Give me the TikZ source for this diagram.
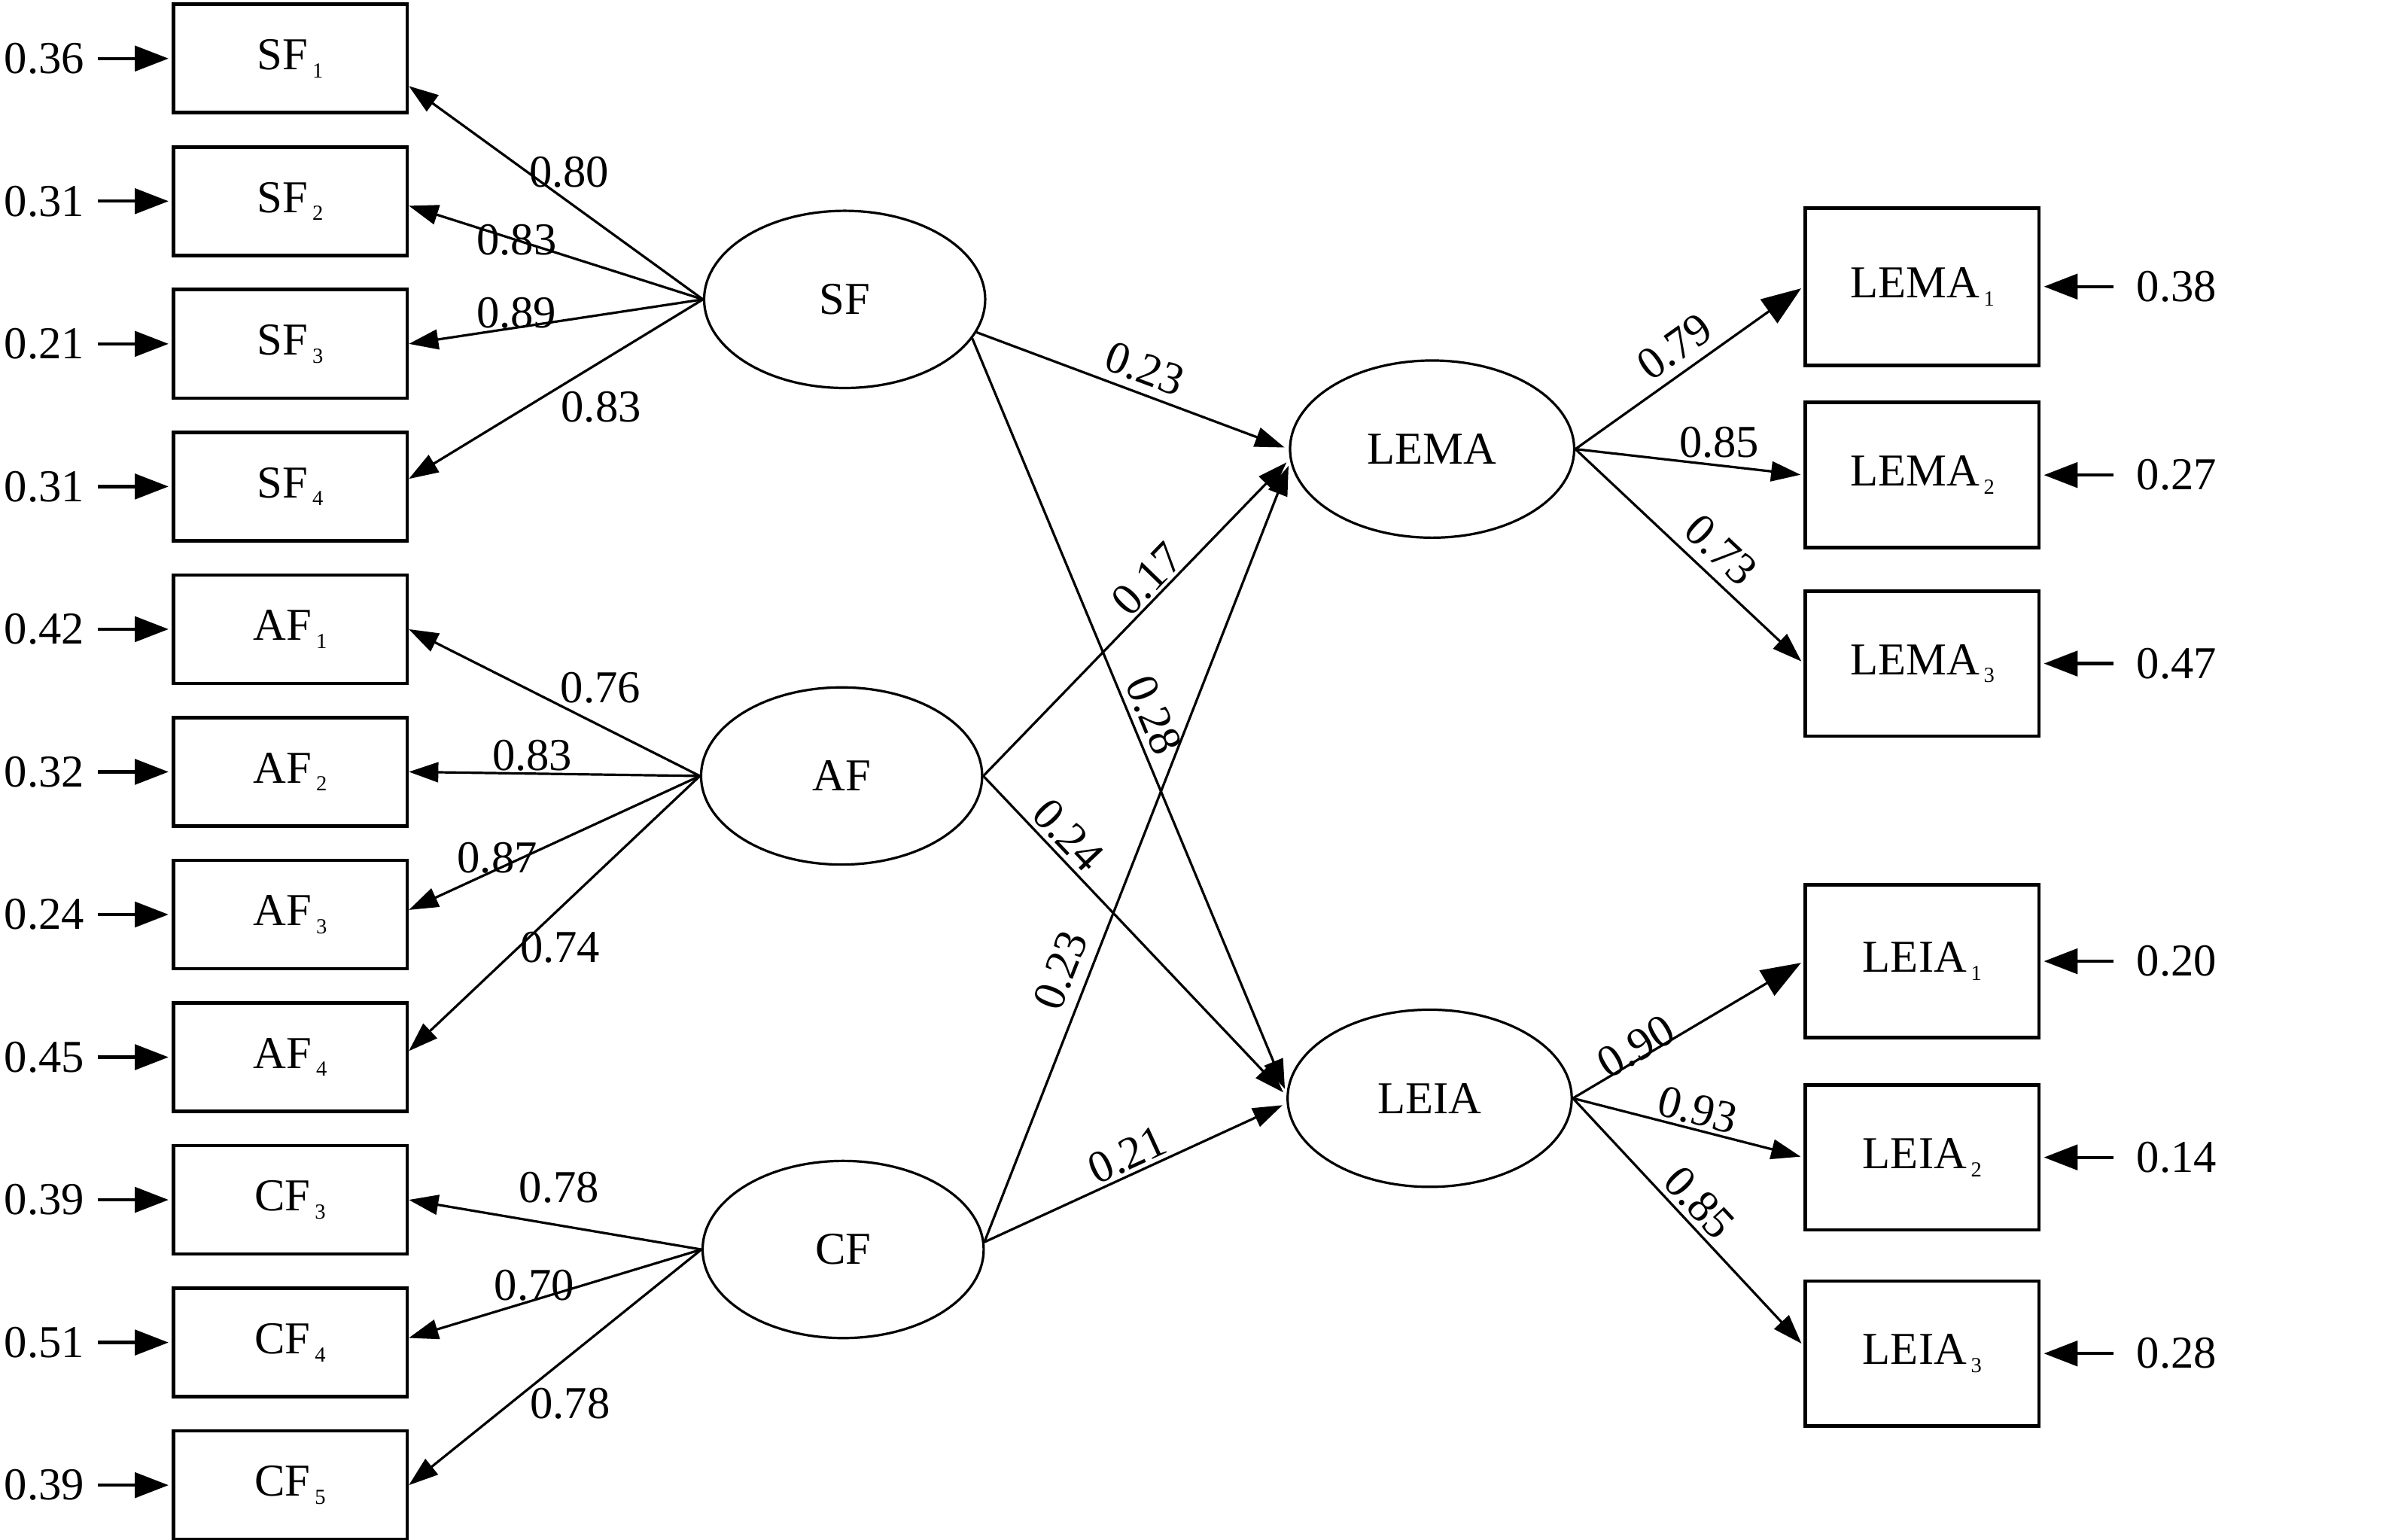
\documentclass[tikz,border=0pt]{standalone}
\usepackage{fontspec}
\setmainfont{Liberation Serif}
\usetikzlibrary{shapes.geometric, positioning, arrows.meta}
\newcommand{\idx}[1]{\kern0.8pt\raisebox{-1.5pt}{\fontsize{4}{4}\selectfont #1}}
\tikzset{
    every node/.style={font=\fontsize{8.5}{10}\selectfont}, % text size of all labels
    obs/.style={draw, line width=0.65pt, minimum width=1.53cm, minimum height=0.71cm, inner sep=0}, % observed variables
    obsr/.style={obs, minimum height=0.95cm},
    lat/.style={draw, ellipse, line width=0.45pt, minimum width=1.84cm, minimum height=1.16cm, inner sep=0}, % latent variables
    err/.style={inner sep=0, inner xsep=0.08cm},
    errr/.style={inner sep=0, inner xsep=0.145cm},
    link/.style={->, line width=0.45pt},
    errlink/.style={-{Triangle[length=6.3pt,width=4.7pt]}, line width=0.6pt, shorten >=0.02cm},
    big/.style={-{Triangle[length=7.4pt,width=5.4pt]}},
    coef/.style={inner sep=0},
    node distance=0.934cm, % spacing of the indicator boxes
    >={Triangle[length=5.5pt,width=3.7pt]},
}
\begin{document}
\begin{tikzpicture}[x=0.1mm, y=-0.1mm]
    \useasboundingbox (0,0) rectangle (1568,1008);
    % latent variables
    \node[lat] (SF) at (553,196) {SF};
    \node[lat] (AF) at (551,508) {AF};
    \node[lat] (CF) at (552,818) {CF};
    \node[lat, minimum width=1.86cm] (LEMA) at (937.6,294) {LEMA};
    \node[lat, minimum width=1.86cm] (LEIA) at (936,719) {LEIA};
    % indicators on the left
    \node[obs] (SF1) at (190,38.3) {SF\idx{1}};
    \node[obs, below of=SF1] (SF2) {SF\idx{2}};
    \node[obs, below of=SF2] (SF3) {SF\idx{3}};
    \node[obs, below of=SF3] (SF4) {SF\idx{4}};
    \node[obs, below of=SF4] (AF1) {AF\idx{1}};
    \node[obs, below of=AF1] (AF2) {AF\idx{2}};
    \node[obs, below of=AF2] (AF3) {AF\idx{3}};
    \node[obs, below of=AF3] (AF4) {AF\idx{4}};
    \node[obs, below of=AF4] (CF3) {CF\idx{3}};
    \node[obs, below of=CF3] (CF4) {CF\idx{4}};
    \node[obs, below of=CF4] (CF5) {CF\idx{5}};
    % indicators on the right
    \node[obsr, minimum height=1.03cm] (LEMA1) at (1258.5,187.6) {LEMA\idx{1}};
    \node[obsr, below of=LEMA1, node distance=1.234cm] (LEMA2) {LEMA\idx{2}};
    \node[obsr, below of=LEMA2, node distance=1.234cm] (LEMA3) {LEMA\idx{3}};
    \node[obsr, minimum height=1.0cm] (LEIA1) at (1258.5,629.3) {LEIA\idx{1}};
    \node[obsr, below of=LEIA1, node distance=1.284cm] (LEIA2) {LEIA\idx{2}};
    \node[obsr, below of=LEIA2, node distance=1.284cm] (LEIA3) {LEIA\idx{3}};
    % error terms
    \node[err, left=0.485cm of SF1] (eSF1) {0.36};
    \node[err, left=0.485cm of SF2] (eSF2) {0.31};
    \node[err, left=0.485cm of SF3] (eSF3) {0.21};
    \node[err, left=0.485cm of SF4] (eSF4) {0.31};
    \node[err, left=0.485cm of AF1] (eAF1) {0.42};
    \node[err, left=0.485cm of AF2] (eAF2) {0.32};
    \node[err, left=0.485cm of AF3] (eAF3) {0.24};
    \node[err, left=0.485cm of AF4] (eAF4) {0.45};
    \node[err, left=0.485cm of CF3] (eCF3) {0.39};
    \node[err, left=0.485cm of CF4] (eCF4) {0.51};
    \node[err, left=0.485cm of CF5] (eCF5) {0.39};
    \node[errr, right=0.475cm of LEMA1] (eLEMA1) {0.38};
    \node[errr, right=0.475cm of LEMA2] (eLEMA2) {0.27};
    \node[errr, right=0.475cm of LEMA3] (eLEMA3) {0.47};
    \node[errr, right=0.475cm of LEIA1] (eLEIA1) {0.20};
    \node[errr, right=0.475cm of LEIA2] (eLEIA2) {0.14};
    \node[errr, right=0.475cm of LEIA3] (eLEIA3) {0.28};
    \path[errlink]
    (eSF1) edge (SF1) (eSF2) edge (SF2) (eSF3) edge (SF3) (eSF4) edge (SF4)
    (eAF1) edge (AF1) (eAF2) edge (AF2) (eAF3) edge (AF3) (eAF4) edge (AF4)
    (eCF3) edge (CF3) (eCF4) edge (CF4) (eCF5) edge (CF5)
    (eLEMA1) edge (LEMA1) (eLEMA2) edge (LEMA2) (eLEMA3) edge (LEMA3)
    (eLEIA1) edge (LEIA1) (eLEIA2) edge (LEIA2) (eLEIA3) edge (LEIA3);
    % loadings on the left
    \path[link]
    (SF.west) edge node[coef, pos=.455, yshift=0.195cm] {0.80} ([yshift=-0.18cm]SF1.east)
    (SF.west) edge node[coef, pos=.633] {0.83} ([yshift=-0.03cm]SF2.east)
    (SF.west) edge node[coef, pos=.634, yshift=0.097cm] {0.89} (SF3.east)
    (SF.west) edge node[coef, pos=.346, yshift=-0.30cm] {0.83} ([yshift=0.05cm]SF4.east)
    (AF.west) edge node[coef, pos=.341, yshift=0.25cm] {0.76} (AF1.east)
    (AF.west) edge node[coef, pos=.576, yshift=0.118cm] {0.83} (AF2.east)
    (AF.west) edge node[coef, pos=.696, yshift=0.073cm] {0.87} ([yshift=0.03cm]AF3.east)
    (AF.west) edge node[coef, pos=.48, yshift=-0.258cm] {0.74} ([yshift=0.04cm]AF4.east)
    (CF.west) edge node[coef, pos=.486, yshift=0.247cm] {0.78} (CF3.east)
    (CF.west) edge node[coef, pos=.571, yshift=0.093cm] {0.70} ([yshift=0.03cm]CF4.east)
    (CF.west) edge node[coef, pos=.449, yshift=-0.317cm] {0.78} (CF5.east);
    % structural paths
    \path[link, shorten >=0.03cm]
    (SF.346) edge node[coef, sloped, pos=.51, above=0.054cm] {0.23} (LEMA.west)
    (SF.343) edge node[coef, sloped, pos=.51, above=0.04cm] {0.28} (LEIA.178)
    (AF.east) edge node[coef, sloped, pos=.58, above=0.015cm] {0.17} (LEMA.184)
    (AF.east) edge node[coef, sloped, pos=.23, above=0.029cm] {0.24} (LEIA.179)
    (CF.3) edge node[coef, sloped, pos=.335, above=0.075cm] {0.23} (LEMA.185)
    (CF.3) edge node[coef, sloped, pos=.5, above=0.021cm] {0.21} (LEIA.182);
    % loadings on the right
    \path[link, shorten >=0.02cm]
    (LEMA.east) edge[big] node[coef, sloped, pos=.5, above=0.06cm] {0.79} (LEMA1.west)
    (LEMA.east) edge node[coef, pos=.63, above=0.04cm] {0.85} (LEMA2.west)
    (LEMA.east) edge node[coef, sloped, pos=.56, above=0.062cm] {0.73} (LEMA3.west)
    (LEIA.east) edge[big] node[coef, sloped, pos=.3, above=-0.029cm] {0.90} (LEIA1.west)
    (LEIA.east) edge node[coef, sloped, pos=.52, above=0.019cm] {0.93} (LEIA2.west)
    (LEIA.east) edge node[coef, sloped, pos=.48, above=0.03cm] {0.85} ([yshift=0.05cm]LEIA3.west);
\end{tikzpicture}
\end{document}
